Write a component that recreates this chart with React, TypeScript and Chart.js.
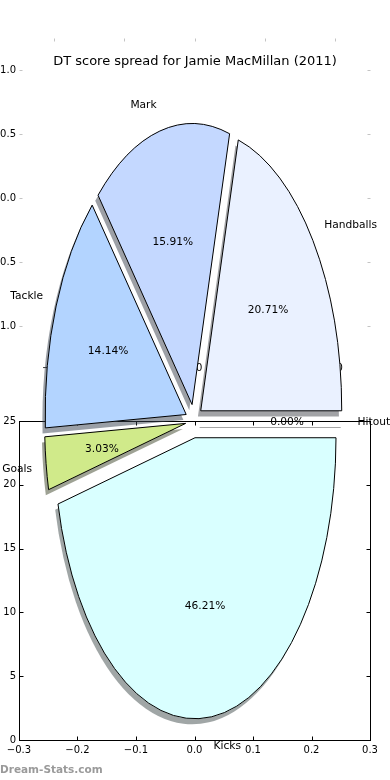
import React, { useEffect, useRef } from 'react';
import { Chart, registerables } from 'chart.js';

Chart.register(...registerables);

// ---------------- data ----------------
const TITLE = 'DT score spread for Jamie MacMillan (2011)';
const WATERMARK = 'Dream-Stats.com';
// order: clockwise from 3 o'clock (same as matplotlib's counter-clockwise order seen from below)
const SLICE_LABELS = ['Hitout', 'Kicks', 'Goals', 'Tackle', 'Mark', 'Handballs'];
const SLICE_VALUES = [0, 46.21, 3.03, 14.14, 15.91, 20.71];
const SLICE_COLORS = ['#ffffff', '#d9ffff', '#d0ea8a', '#b3d4ff', '#c4d8ff', '#eaf1ff'];
const SLICE_EXPLODE = [0.06, 0.06, 0.06, 0.06, 0.06, 0.06];

const LOWER_X_RANGE = [-0.3, 0.3];
const LOWER_X_TICKS = [-0.3, -0.2, -0.1, 0, 0.1, 0.2, 0.3];
const LOWER_Y_RANGE = [0, 25];
const LOWER_Y_TICKS = [0, 5, 10, 15, 20, 25];
const UPPER_RANGE = [-1.25, 1.25];
const UPPER_TICKS = [-1, -0.5, 0, 0.5, 1];

// ---------------- layout / style ----------------
const W = 390;
const H = 780;
const FONT = '"DejaVu Sans", "Liberation Sans", sans-serif';
const X_AXIS_H = 40;
const UPPER_BOX = { left: 19, right: 370, top: 38, bottom: 358 };
const LOWER_BOX = { left: 19, right: 370, top: 421, bottom: 740 };
const PIE_CX = 194;
const PIE_CY = 421;
const PIE_RX = 141;
const PIE_RY = 281;
const SHADOW_DX = -2.8;
const SHADOW_DY = 5.6;
const TEXT_DY = 1.5;

const fmt1 = (v: number) => {
  const n = Math.abs(v) < 1e-9 ? 0 : v;
  return n.toFixed(1).replace('-', '\u2212');
};
const fmt0 = (v: number) => String(Math.round(v)).replace('-', '\u2212');

function inwardTicks(color: string, len: number, frame: boolean) {
  return {
    id: 'inwardTicks',
    afterDraw(chart: any) {
      const { ctx, chartArea: a, scales } = chart;
      const L = Math.round(a.left) + 0.5;
      const R = Math.round(a.right) + 0.5;
      const T = Math.round(a.top) + 0.5;
      const B = Math.round(a.bottom) + 0.5;
      ctx.save();
      ctx.strokeStyle = color;
      ctx.lineWidth = 1;
      ctx.beginPath();
      scales.x.ticks.forEach((t: any) => {
        const x = Math.round(scales.x.getPixelForValue(t.value)) + 0.5;
        ctx.moveTo(x, T);
        ctx.lineTo(x, T + len);
        ctx.moveTo(x, B);
        ctx.lineTo(x, B - len);
      });
      scales.y.ticks.forEach((t: any) => {
        const y = Math.round(scales.y.getPixelForValue(t.value)) + 0.5;
        ctx.moveTo(L, y);
        ctx.lineTo(L + len, y);
        ctx.moveTo(R, y);
        ctx.lineTo(R - len, y);
      });
      ctx.stroke();
      if (frame) {
        ctx.strokeStyle = '#000';
        ctx.strokeRect(L, T, R - L, B - T);
      }
      ctx.restore();
    },
  };
}

function makeAxes(canvas: HTMLCanvasElement, o: any) {
  return new Chart(canvas, {
    type: 'scatter',
    data: { datasets: [] },
    options: {
      responsive: false,
      animation: false,
      events: [],
      layout: {
        padding: { left: 0, top: o.box.top, right: W - o.box.right, bottom: H - o.box.bottom - X_AXIS_H },
      },
      plugins: { legend: { display: false }, tooltip: { enabled: false }, title: { display: false } },
      scales: {
        x: {
          type: 'linear',
          position: 'bottom',
          min: o.xRange[0],
          max: o.xRange[1],
          afterBuildTicks: (s: any) => {
            s.ticks = o.xTicks.map((v: number) => ({ value: v }));
          },
          afterFit: (s: any) => {
            s.height = X_AXIS_H;
          },
          grid: { display: false, drawTicks: false },
          border: { display: false },
          ticks: {
            callback: (v: any) => o.xFmt(Number(v)),
            color: '#000',
            font: { family: FONT, size: 10 },
            padding: 4,
            maxRotation: 0,
            autoSkip: false,
          },
        },
        y: {
          type: 'linear',
          position: 'left',
          min: o.yRange[0],
          max: o.yRange[1],
          afterBuildTicks: (s: any) => {
            s.ticks = o.yTicks.map((v: number) => ({ value: v }));
          },
          afterFit: (s: any) => {
            s.width = o.box.left;
          },
          grid: { display: false, drawTicks: false },
          border: { display: false },
          ticks: {
            callback: (v: any) => o.yFmt(Number(v)),
            color: '#000',
            font: { family: FONT, size: 10 },
            padding: 3,
            autoSkip: false,
          },
        },
      },
    } as any,
    plugins: [inwardTicks(o.tickColor, o.tickLen, o.frame)],
  });
}

const shadowOf = (hex: string) => {
  const n = parseInt(hex.slice(1), 16);
  const r = Math.round(((n >> 16) & 255) * 0.3);
  const g = Math.round(((n >> 8) & 255) * 0.3);
  const b = Math.round((n & 255) * 0.3);
  return `rgba(${r},${g},${b},0.5)`;
};

const explodedPie = {
  id: 'explodedPie',
  beforeDatasetsDraw(chart: any) {
    const ctx = chart.ctx;
    const arcs = chart.getDatasetMeta(0).data;
    const dpr = chart.currentDevicePixelRatio || 1;
    const sy = PIE_RY / PIE_RX;
    const nativeStroke = ctx.stroke;

    const pass = (shadow: boolean) => {
      if (shadow) {
        ctx.stroke = function () {};
      } else {
        ctx.stroke = function () {
          ctx.save();
          ctx.setTransform(dpr, 0, 0, dpr, 0, 0);
          nativeStroke.call(ctx);
          ctx.restore();
        };
      }
      arcs.forEach((a: any, i: number) => {
        const mid = (a.startAngle + a.endAngle) / 2;
        const d = SLICE_EXPLODE[i] * a.outerRadius;
        if (Math.abs(a.endAngle - a.startAngle) < 1e-9) {
          // zero-size wedge: matplotlib still draws its radial edge
          const x0 = a.x + d * Math.cos(mid);
          const y0 = a.y + sy * d * Math.sin(mid);
          const x1 = x0 + a.outerRadius * Math.cos(mid);
          const y1 = y0 + sy * a.outerRadius * Math.sin(mid);
          ctx.save();
          ctx.lineWidth = 1;
          ctx.beginPath();
          if (shadow) {
            ctx.strokeStyle = shadowOf(SLICE_COLORS[i]);
            ctx.moveTo(x0 + SHADOW_DX, Math.round(y0 + SHADOW_DY) + 0.5);
            ctx.lineTo(x1 + SHADOW_DX, Math.round(y1 + SHADOW_DY) + 0.5);
          } else {
            ctx.strokeStyle = '#000';
            ctx.moveTo(x0, Math.round(y0) + 0.5);
            ctx.lineTo(x1, Math.round(y1) + 0.5);
          }
          nativeStroke.call(ctx);
          ctx.restore();
          return;
        }
        ctx.save();
        if (shadow) {
          ctx.shadowColor = shadowOf(SLICE_COLORS[i]);
          ctx.shadowOffsetX = SHADOW_DX;
          ctx.shadowOffsetY = SHADOW_DY;
          ctx.shadowBlur = 0;
        }
        ctx.translate(a.x, a.y);
        ctx.scale(1, sy);
        ctx.translate(-a.x, -a.y);
        ctx.translate(d * Math.cos(mid), d * Math.sin(mid));
        a.draw(ctx);
        ctx.restore();
      });
    };

    pass(true);
    pass(false);
    delete ctx.stroke;
    return false;
  },
};

const pieText = {
  id: 'pieText',
  afterDraw(chart: any) {
    const ctx = chart.ctx;
    const arcs = chart.getDatasetMeta(0).data;
    const sy = PIE_RY / PIE_RX;
    const total = SLICE_VALUES.reduce((s, v) => s + v, 0);
    ctx.save();
    ctx.fillStyle = '#000';
    ctx.textBaseline = 'middle';
    ctx.font = `10.67px ${FONT}`;
    arcs.forEach((a: any, i: number) => {
      const mid = (a.startAngle + a.endAngle) / 2;
      const c = Math.cos(mid);
      const s = Math.sin(mid);
      const d = SLICE_EXPLODE[i] * a.outerRadius;
      const R = a.outerRadius;
      const lx = a.x + (d + 1.1 * R) * c;
      const ly = a.y + sy * (d + 1.1 * R) * s;
      ctx.textAlign = lx > a.x ? 'left' : 'right';
      ctx.fillText(SLICE_LABELS[i], lx, ly + TEXT_DY);
      const px = a.x + (d + 0.6 * R) * c;
      const py = a.y + sy * (d + 0.6 * R) * s;
      ctx.textAlign = 'center';
      ctx.fillText(((SLICE_VALUES[i] / total) * 100).toFixed(2) + '%', px, py + TEXT_DY);
    });
    // title
    ctx.font = `13px ${FONT}`;
    ctx.textAlign = 'center';
    ctx.fillText(TITLE, 195, 62);
    // watermark
    ctx.font = `bold 10.5px ${FONT}`;
    ctx.fillStyle = '#9a9a9a';
    ctx.textAlign = 'left';
    ctx.fillText(WATERMARK, 0, 770);
    ctx.restore();
  },
};

function makePie(canvas: HTMLCanvasElement) {
  return new Chart(canvas, {
    type: 'pie',
    data: {
      labels: SLICE_LABELS,
      datasets: [
        {
          data: SLICE_VALUES,
          backgroundColor: SLICE_COLORS,
          borderColor: '#000',
          borderWidth: 1,
          borderJoinStyle: 'miter',
          offset: 0,
          radius: PIE_RX,
          rotation: 90,
        } as any,
      ],
    },
    options: {
      responsive: false,
      animation: false,
      events: [],
      rotation: 90,
      radius: PIE_RX,
      layout: { padding: { left: 0, right: W - 2 * PIE_CX, top: 2 * PIE_CY - H, bottom: 0 } },
      plugins: { legend: { display: false }, tooltip: { enabled: false } },
    } as any,
    plugins: [explodedPie, pieText],
  });
}

export default function App() {
  const upperRef = useRef<HTMLCanvasElement>(null);
  const lowerRef = useRef<HTMLCanvasElement>(null);
  const pieRef = useRef<HTMLCanvasElement>(null);

  useEffect(() => {
    const charts = [
      makeAxes(upperRef.current!, {
        box: UPPER_BOX,
        xRange: UPPER_RANGE,
        yRange: UPPER_RANGE,
        xTicks: UPPER_TICKS,
        yTicks: UPPER_TICKS,
        xFmt: fmt1,
        yFmt: fmt1,
        tickColor: '#c4c4c4',
        tickLen: 3,
        frame: false,
      }),
      makeAxes(lowerRef.current!, {
        box: LOWER_BOX,
        xRange: LOWER_X_RANGE,
        yRange: LOWER_Y_RANGE,
        xTicks: LOWER_X_TICKS,
        yTicks: LOWER_Y_TICKS,
        xFmt: fmt1,
        yFmt: fmt0,
        tickColor: '#000',
        tickLen: 4,
        frame: true,
      }),
      makePie(pieRef.current!),
    ];
    return () => charts.forEach((c) => c.destroy());
  }, []);

  const cs: React.CSSProperties = { position: 'absolute', left: 0, top: 0, width: W, height: H };
  return (
    <div style={{ position: 'absolute', left: 0, top: 0, width: W, height: H, background: '#fff', overflow: 'hidden' }}>
      <canvas ref={upperRef} width={W} height={H} style={cs} />
      <canvas ref={lowerRef} width={W} height={H} style={cs} />
      <canvas ref={pieRef} width={W} height={H} style={cs} />
    </div>
  );
}
